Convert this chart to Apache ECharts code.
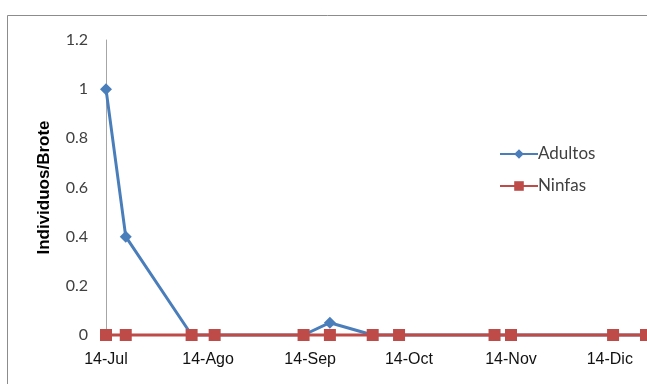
<!DOCTYPE html>
<html>
<head>
<meta charset="utf-8">
<script src="https://cdn.jsdelivr.net/npm/echarts@6/dist/echarts.min.js"></script>
<style>
  html, body { margin: 0; padding: 0; background: #fff; }
  #chart { width: 647px; height: 384px; }
</style>
</head>
<body>
<div id="chart"></div>
<script>
// Sampling dates and counts per shoot
const sampleDates = ['2011-07-14', '2011-07-20', '2011-08-09', '2011-08-16', '2011-09-12', '2011-09-20',
                     '2011-10-03', '2011-10-11', '2011-11-09', '2011-11-14', '2011-12-15', '2011-12-25'];
const adultos = [1, 0.4, 0, 0, 0, 0.05, 0, 0, 0, 0, 0, 0];
const ninfas  = [0, 0, 0, 0, 0, 0, 0, 0, 0, 0, 0, 0];

// Month ticks on the x axis
const tickDates  = ['2011-07-14', '2011-08-14', '2011-09-14', '2011-10-14', '2011-11-14', '2011-12-14'];
const tickLabels = ['14-Jul', '14-Ago', '14-Sep', '14-Oct', '14-Nov', '14-Dic'];

// Dates become whole days counted from the first sample
const DAY = 86400000;
function toTime(s) {
  const p = s.split('-').map(Number);
  return Date.UTC(p[0], p[1] - 1, p[2]);
}
const origin = toTime(sampleDates[0]);
const toDay = s => Math.round((toTime(s) - origin) / DAY);
const tickDays = tickDates.map(toDay);
const labelFor = {};
tickDays.forEach((d, i) => { labelFor[d] = tickLabels[i]; });

const chart = echarts.init(document.getElementById('chart'), null, { renderer: 'canvas' });
chart.setOption({
  animation: false,
  backgroundColor: '#ffffff',
  graphic: [{
    type: 'rect',
    shape: { x: 7.5, y: 15.5, width: 700, height: 400 },
    style: { fill: 'none', stroke: '#8c8c8c', lineWidth: 1 },
    silent: true, z: -1
  }],
  grid: { left: 106, top: 40, bottom: 49, right: 1 },
  legend: {
    orient: 'vertical',
    left: 499, top: 144,
    padding: 0,
    itemWidth: 38, itemHeight: 12, itemGap: 12,
    textStyle: { fontFamily: 'Lato, "Liberation Sans", sans-serif', fontSize: 17, lineHeight: 20, color: '#404040', padding: [0, 0, 0, -5] },
    data: ['Adultos', 'Ninfas']
  },
  xAxis: {
    type: 'value',
    min: 0,
    max: toDay(sampleDates[sampleDates.length - 1]),
    axisLine: { show: false },
    axisTick: { show: false },
    splitLine: { show: false },
    axisLabel: {
      customValues: tickDays,
      formatter: v => labelFor[v] || '',
      margin: 17,
      fontFamily: '"Liberation Sans", Arial, sans-serif',
      fontSize: 16,
      color: '#111'
    }
  },
  yAxis: {
    type: 'value',
    min: 0, max: 1.2, interval: 0.2,
    name: 'Individuos/Brote',
    nameLocation: 'middle',
    nameGap: 53,
    nameTextStyle: { fontFamily: '"Liberation Sans", Arial, sans-serif', fontSize: 17, fontWeight: 'bold', color: '#000' },
    axisLine: { show: true, lineStyle: { color: '#a6a6a6', width: 1 } },
    axisTick: { show: false },
    splitLine: { show: false },
    axisLabel: {
      margin: 18,
      fontFamily: 'Lato, "Liberation Sans", sans-serif',
      fontSize: 16,
      color: '#404040',
      formatter: v => String(Math.round(v * 10) / 10)
    }
  },
  series: [
    {
      name: 'Adultos',
      type: 'line',
      data: sampleDates.map((d, i) => [toDay(d), adultos[i]]),
      symbol: 'diamond',
      symbolSize: 12,
      showAllSymbol: true,
      clip: false,
      lineStyle: { color: '#4a7ebb', width: 3 },
      itemStyle: { color: '#4a7ebb' }
    },
    {
      name: 'Ninfas',
      type: 'line',
      data: sampleDates.map((d, i) => [toDay(d), ninfas[i]]),
      symbol: 'rect',
      symbolSize: 12,
      showAllSymbol: true,
      clip: false,
      lineStyle: { color: '#be4b48', width: 3 },
      itemStyle: { color: '#be4b48' }
    }
  ]
});
</script>
</body>
</html>
